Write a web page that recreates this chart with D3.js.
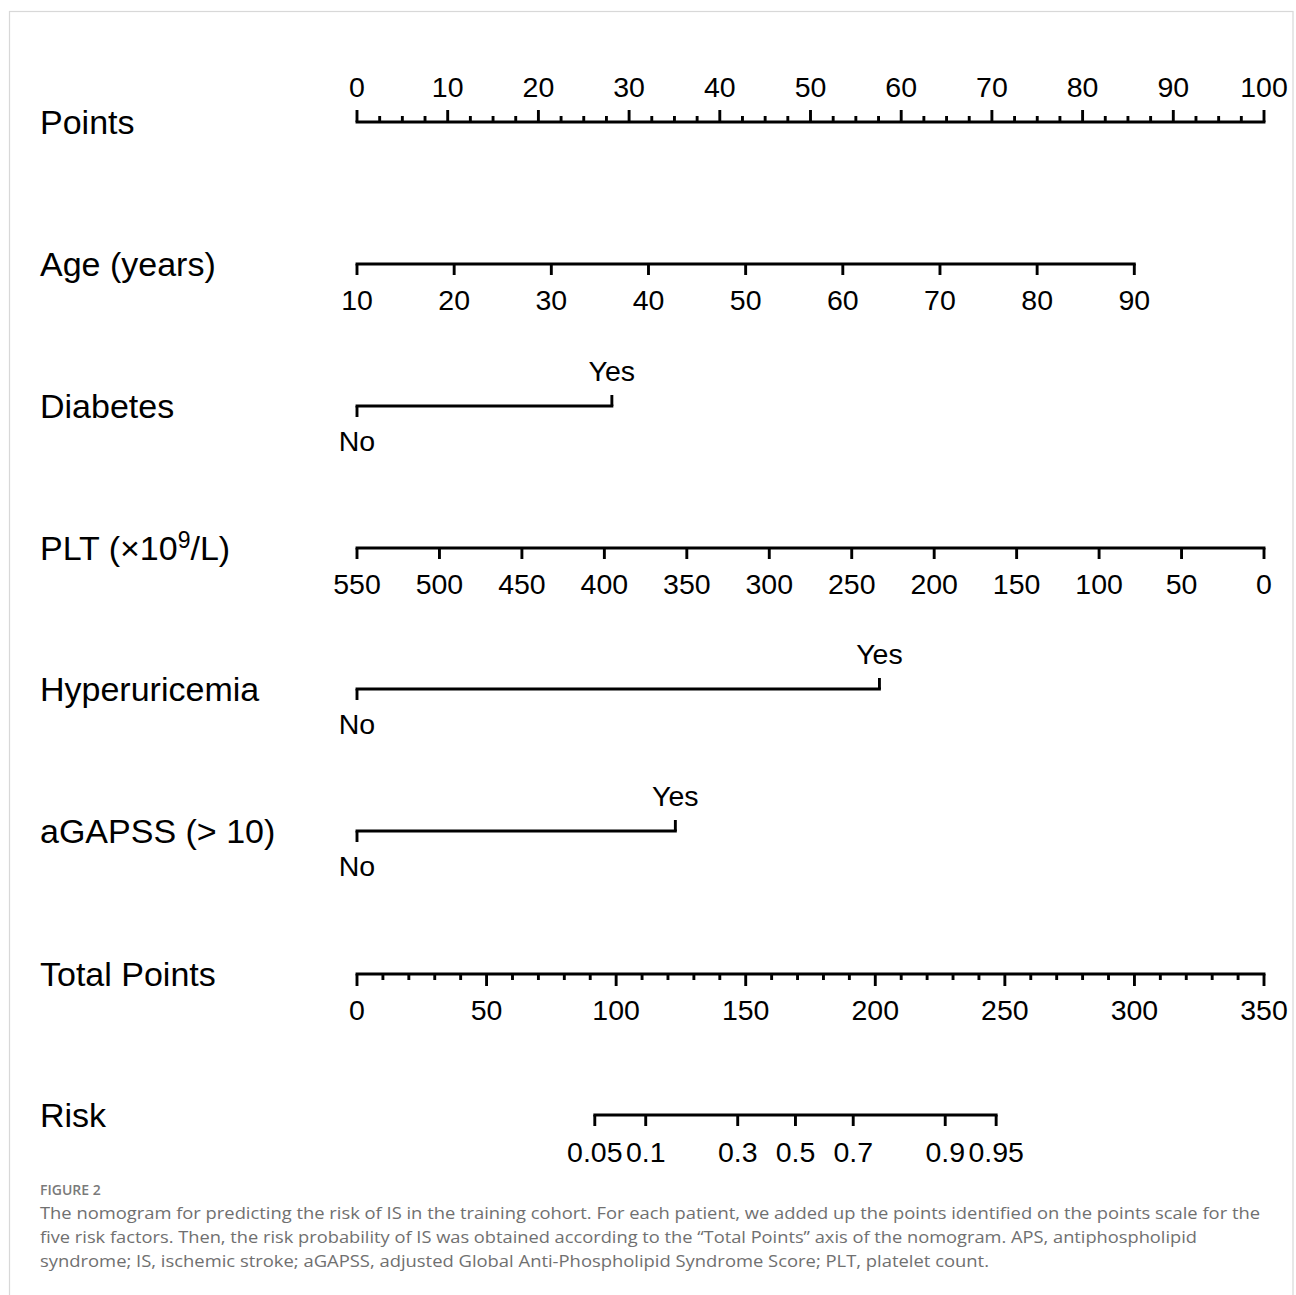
<!DOCTYPE html>
<html><head><meta charset="utf-8">
<script src="https://cdn.jsdelivr.net/npm/d3@7"></script>
<style>body{margin:0;background:#fff}</style>
</head><body>
<svg id="c" width="1296" height="1295" xmlns="http://www.w3.org/2000/svg"></svg>
<script>
// ---------- data ----------
const pointsTicks = [0,10,20,30,40,50,60,70,80,90,100];
const pointsMinorStep = 2.5;
const ageTicks = [10,20,30,40,50,60,70,80,90];
const ageDomain = [10,90];
const agePoints = [0,85.7];          // points at age 10 / 90
const diabetesLevels = ["No","Yes"];
const diabetesPoints = [0,28.1];
const pltTicks = [550,500,450,400,350,300,250,200,150,100,50,0];
const pltDomain = [550,0];
const pltPoints = [0,100];
const hyperLevels = ["No","Yes"];
const hyperPoints = [0,57.6];
const agapssLevels = ["No","Yes"];
const agapssPoints = [0,35.1];
const totalTicks = [0,50,100,150,200,250,300,350];
const totalMinorStep = 10;
const totalMax = 350;
const riskTicks = [0.05,0.1,0.3,0.5,0.7,0.9,0.95];
const riskLabels = ["0.05","0.1","0.3","0.5","0.7","0.9","0.95"];
const riskIntercept = 169.2;   // total points at p = 0.5
const riskSlope = 26.3;        // total points per logit unit
const rowNames = ["Points","Age (years)","Diabetes","PLT","Hyperuricemia","aGAPSS (> 10)","Total Points","Risk"];
const captionTitle = "FIGURE 2";
const captionLines = [
  "The nomogram for predicting the risk of IS in the training cohort. For each patient, we added up the points identified on the points scale for the",
  "five risk factors. Then, the risk probability of IS was obtained according to the \u201CTotal Points\u201D axis of the nomogram. APS, antiphospholipid",
  "syndrome; IS, ischemic stroke; aGAPSS, adjusted Global Anti-Phospholipid Syndrome Score; PLT, platelet count."
];

// ---------- layout ----------
const svg = d3.select("#c");
const X0 = 357, X1 = 1264;
const rowY = [122,264,406,548,689,831,974,1115];
const FONT = "'Liberation Sans', Arial, Helvetica, sans-serif";
const LW = 2.9, TICK = 11, MINOR = 6, TICKFS = 28.5;

svg.append("rect").attr("x",9.5).attr("y",11.5).attr("width",1283.5).attr("height",1400)
  .attr("fill","none").attr("stroke","#d8d8d8").attr("stroke-width",1.2);

const xPts = d3.scaleLinear().domain([0,100]).range([X0,X1]);
const xTot = d3.scaleLinear().domain([0,totalMax]).range([X0,X1]);

// row labels
svg.append("g").selectAll("text").data(rowNames).join("text")
  .attr("x",40).attr("y",(d,i)=>rowY[i]+12)
  .attr("font-family",FONT).attr("font-size",34).attr("fill","#000")
  .each(function(d){
    const t = d3.select(this);
    if (d === "PLT") {
      t.append("tspan").text("PLT (\u00D710");
      t.append("tspan").attr("font-size",23).attr("dy",-12).text("9");
      t.append("tspan").attr("dy",12).text("/L)");
    } else t.text(d);
  });

function axisLine(g, xa, xb, y){
  g.append("line").attr("x1",xa).attr("x2",xb).attr("y1",y).attr("y2",y)
    .attr("stroke","#000").attr("stroke-width",LW).attr("stroke-linecap","square");
}
function ticks(g, xs, y, len, dir){
  g.selectAll(null).data(xs).join("line")
    .attr("x1",d=>d).attr("x2",d=>d).attr("y1",y).attr("y2",y+dir*len)
    .attr("stroke","#000").attr("stroke-width",LW);
}
function labels(g, items, y, anchor){
  g.selectAll(null).data(items).join("text")
    .attr("x",d=>d.x).attr("y",y).attr("text-anchor",anchor||"middle")
    .attr("font-family",FONT).attr("font-size",TICKFS).attr("fill","#000")
    .text(d=>d.t);
}

// Points axis
{
  const g = svg.append("g"), y = rowY[0];
  axisLine(g, xPts(0), xPts(100), y);
  const minor = d3.range(0,100+1e-9,pointsMinorStep).filter(v=>!pointsTicks.includes(v));
  ticks(g, minor.map(xPts), y, MINOR, -1);
  ticks(g, pointsTicks.map(xPts), y, TICK+1, -1);
  labels(g, pointsTicks.map(v=>({x:xPts(v),t:v})), y-25);
}
// continuous variable axes
function contAxis(idx, domain, pts, tickVals){
  const g = svg.append("g"), y = rowY[idx];
  const s = d3.scaleLinear().domain(domain).range(pts);
  const xs = tickVals.map(v=>xPts(s(v)));
  axisLine(g, d3.min(xs), d3.max(xs), y);
  ticks(g, xs, y, TICK, 1);
  labels(g, tickVals.map(v=>({x:xPts(s(v)),t:v})), y+46);
}
contAxis(1, ageDomain, agePoints, ageTicks);
contAxis(3, pltDomain, pltPoints, pltTicks);

// categorical variable axes
function catAxis(idx, levels, pts){
  const g = svg.append("g"), y = rowY[idx];
  const xs = pts.map(xPts);
  axisLine(g, xs[0], xs[1], y);
  ticks(g, [xs[0]], y, TICK, 1);
  ticks(g, [xs[1]], y, TICK, -1);
  labels(g, [{x:xs[0],t:levels[0]}], y+45);
  labels(g, [{x:xs[1],t:levels[1]}], y-25);
}
catAxis(2, diabetesLevels, diabetesPoints);
catAxis(4, hyperLevels, hyperPoints);
catAxis(5, agapssLevels, agapssPoints);

// Total points
{
  const g = svg.append("g"), y = rowY[6];
  axisLine(g, xTot(0), xTot(totalMax), y);
  const minor = d3.range(0,totalMax+1e-9,totalMinorStep).filter(v=>!totalTicks.includes(v));
  ticks(g, minor.map(xTot), y, MINOR, 1);
  ticks(g, totalTicks.map(xTot), y, TICK+1, 1);
  labels(g, totalTicks.map(v=>({x:xTot(v),t:v})), y+46);
}
// Risk
{
  const g = svg.append("g"), y = rowY[7];
  const logit = p => Math.log(p/(1-p));
  const rx = p => xTot(riskIntercept + riskSlope*logit(p));
  const xs = riskTicks.map(rx);
  axisLine(g, d3.min(xs), d3.max(xs), y);
  ticks(g, xs, y, TICK, 1);
  labels(g, riskTicks.map((p,i)=>({x:rx(p),t:riskLabels[i]})), y+47);
}

// caption
const CF = "'Open Sans', 'Noto Sans', sans-serif";
svg.append("text").attr("x",40).attr("y",1195).attr("font-family",CF)
  .attr("font-size",14).attr("font-weight",600).attr("fill","#7a7a7a").text(captionTitle);
const capW = [1220, 1157, 949];
svg.append("g").selectAll("text").data(captionLines).join("text")
  .attr("x",40).attr("y",(d,i)=>1219+i*24)
  .attr("font-family",CF).attr("font-size",16.5).attr("fill","#707070")
  .attr("textLength",(d,i)=>capW[i]).attr("lengthAdjust","spacingAndGlyphs")
  .text(d=>d);
</script>
</body></html>
